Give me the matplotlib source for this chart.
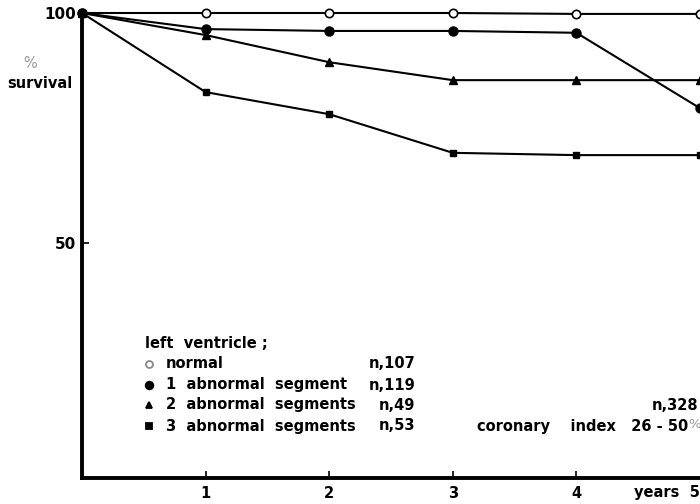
import matplotlib
matplotlib.use("Agg")
import matplotlib.pyplot as plt

# survival curves (years vs % survival)
years = [0, 1, 2, 3, 4, 5]
normal = [100, 100, 100, 100, 99.8, 99.8]
one_seg = [100, 96.5, 96.1, 96.1, 95.7, 79.3]
two_seg = [100, 95.2, 89.3, 85.4, 85.4, 85.4]
three_seg = [100, 82.8, 78.0, 69.6, 69.1, 69.1]

legend_labels = ["normal", "1  abnormal  segment", "2  abnormal  segments", "3  abnormal  segments"]
legend_n = ["n,107", "n,119", "n,49", "n,53"]
xtick_vals = [1, 2, 3, 4]
ytick_vals = [50, 100]

plt.rcParams['font.family'] = ['DejaVu Sans']
plt.rcParams['font.weight'] = 'bold'
FS = 10.5

fig = plt.figure(figsize=(7, 5.04), dpi=100)
ax = fig.add_axes([82 / 700, 1 - 478 / 504, 1 - 82 / 700, 465 / 504])

line_kw = dict(color='black', lw=1.5, clip_on=False, zorder=3)
ax.plot(years, normal, marker='o', ms=6, mfc='white', mec='black', mew=1.2, **line_kw)
ax.plot(years, one_seg, marker='o', ms=6.5, mfc='black', mec='black', **line_kw)
ax.plot(years, two_seg, marker='^', ms=5.5, mfc='black', mec='black', **line_kw)
ax.plot(years, three_seg, marker='s', ms=5, mfc='black', mec='black', **line_kw)

ax.set_xlim(0, 5)
ax.set_ylim(-1.1, 100)
for s in ['top', 'right']:
    ax.spines[s].set_visible(False)
ax.spines['left'].set_linewidth(2.8)
ax.spines['bottom'].set_linewidth(2.8)

ax.set_xticks(xtick_vals)
ax.set_xticklabels([str(v) for v in xtick_vals], fontsize=FS, fontweight='bold')
ax.set_yticks(ytick_vals)
ax.set_yticklabels([str(v) for v in ytick_vals], fontsize=FS + 0.5, fontweight='bold')
ax.tick_params(axis='x', direction='in', length=5, width=1.2, pad=6)
ax.tick_params(axis='y', direction='in', length=5, width=1.2, pad=4)

fig.text(700 / 700, 1 - 493 / 504, "years  5", ha='right', va='center', fontsize=FS, fontweight='bold')

fig.text(30 / 700, 1 - 64 / 504, "%", ha='center', va='center', fontsize=FS, color='#999999',
         fontweight='normal')
fig.text(40 / 700, 1 - 83 / 504, "survival", ha='center', va='center', fontsize=FS, fontweight='bold')

# legend drawn as text block
fig.text(145 / 700, 1 - 344 / 504, "left  ventricle ;", ha='left', va='center', fontsize=FS, fontweight='bold')
row_y = [364, 385, 405, 426]
markers = [('o', 'white', 5), ('o', 'black', 5.5), ('^', 'black', 5), ('s', 'black', 4.5)]
for i, (lab, n) in enumerate(zip(legend_labels, legend_n)):
    yy = 1 - row_y[i] / 504
    m, fc, ms = markers[i]
    fig.lines.append(plt.Line2D([149 / 700], [yy], marker=m, ms=ms, mfc=fc,
                                mec='#888888' if fc == 'white' else 'black', mew=1.3,
                                transform=fig.transFigure, ls='none'))
    fig.text(166 / 700, yy, lab, ha='left', va='center', fontsize=FS, fontweight='bold')
    fig.text(415 / 700, yy, n, ha='right', va='center', fontsize=FS, fontweight='bold')

fig.text(698 / 700, 1 - 405 / 504, "n,328", ha='right', va='center', fontsize=FS, fontweight='bold')
fig.text(688 / 700, 1 - 427 / 504, "coronary    index   26 - 50", ha='right', va='center', fontsize=FS,
         fontweight='bold')
fig.text(688 / 700, 1 - 425 / 504, "%", ha='left', va='center', fontsize=FS - 1, color='#999999',
         fontweight='normal')

fig.savefig("out.png", dpi=100)
